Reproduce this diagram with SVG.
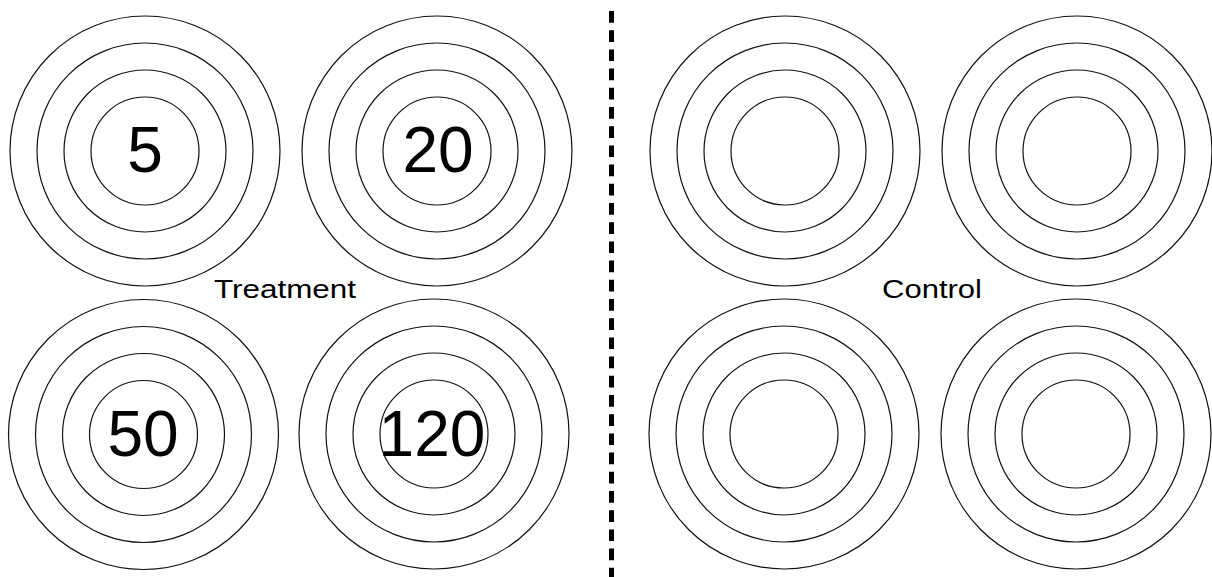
<svg xmlns="http://www.w3.org/2000/svg" width="1212" height="577" viewBox="0 0 1212 577">
<defs>
<style>
.ring{fill:none;stroke:#111;stroke-width:1.2}
.num{font-family:"Liberation Sans",Arial,sans-serif;font-size:64px;fill:#000;text-anchor:middle}
.lbl{font-family:"Liberation Sans",Arial,sans-serif;font-size:25px;fill:#000}
</style>
<g id="target">
<circle class="ring" r="135"/>
<circle class="ring" r="108"/>
<circle class="ring" r="81"/>
<circle class="ring" r="54"/>
</g>
</defs>
<rect width="1212" height="577" fill="#fff"/>
<g id="t5"><use href="#target" x="145" y="151"/><text class="num" x="145" y="172">5</text></g>
<g id="t20"><use href="#target" x="437" y="151"/><text class="num" x="438" y="172">20</text></g>
<g id="t50"><use href="#target" x="143.5" y="434.5"/><text class="num" x="143" y="456">50</text></g>
<g id="t120"><use href="#target" x="434" y="434"/><text class="num" x="432" y="456">120</text></g>
<g id="c1"><use href="#target" x="785" y="151"/></g>
<g id="c2"><use href="#target" x="1077" y="151"/></g>
<g id="c3"><use href="#target" x="784" y="434"/></g>
<g id="c4"><use href="#target" x="1076" y="434"/></g>
<g id="labels">
<text class="lbl" x="214" y="298" textLength="142" lengthAdjust="spacingAndGlyphs">Treatment</text>
<text class="lbl" x="882" y="298" textLength="100" lengthAdjust="spacingAndGlyphs">Control</text>
</g>
<g id="connectors">
<line x1="611.5" y1="11" x2="611.5" y2="577" stroke="#000" stroke-width="5" stroke-dasharray="11.7 7.5"/>
</g>
</svg>
